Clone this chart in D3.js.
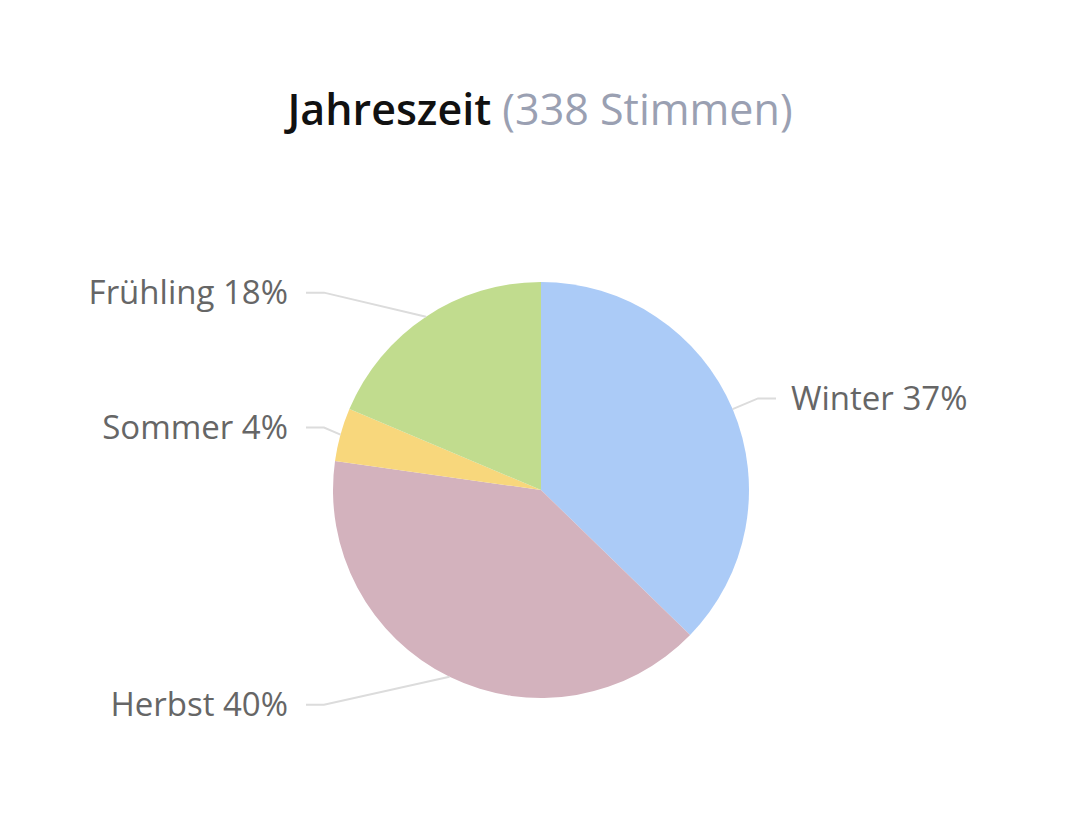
<!DOCTYPE html>
<html>
<head>
<meta charset="utf-8">
<script src="https://cdn.jsdelivr.net/npm/d3@7"></script>
<style>
  body { margin: 0; background: #fff; }
  svg { display: block; font-family: "Open Sans", "Noto Sans", sans-serif; }
</style>
</head>
<body>
<svg id="chart"></svg>
<script>
// data
const categories = ["Winter", "Herbst", "Sommer", "Frühling"];
const votes = [126, 135, 14, 63];
const percentLabels = ["37%", "40%", "4%", "18%"];
const colors = ["#abcbf7", "#d3b2bd", "#f8d77c", "#c1dc8e"];
const titleText = "Jahreszeit";
const subtitleText = "(338 Stimmen)";

const width = 1080, height = 822;
const cx = 541, cy = 490, radius = 208;
const labelDistance = 30;   // label y is placed this far beyond the rim
const labelColumn = 235;    // horizontal offset from centre to connector start
const connectorBreak = 18;  // length of the horizontal piece of the connector

const svg = d3.select("#chart")
  .attr("width", width)
  .attr("height", height);

svg.append("rect")
  .attr("width", width)
  .attr("height", height)
  .attr("fill", "#fff");

// title
const title = svg.append("text")
  .attr("x", width / 2)
  .attr("y", 125)
  .attr("text-anchor", "middle")
  .style("font-size", "43px");
title.append("tspan").attr("fill", "#111").attr("font-weight", 600).text(titleText);
title.append("tspan").attr("fill", "#9aa0b2").attr("font-weight", 400).text(" " + subtitleText);

const data = categories.map((c, i) => ({ name: c, value: votes[i], pct: percentLabels[i], color: colors[i] }));

const pie = d3.pie().sort(null).value(d => d.value);
const arcs = pie(data);
const arc = d3.arc().innerRadius(0).outerRadius(radius);

const g = svg.append("g").attr("transform", `translate(${cx},${cy})`);

g.selectAll("path.slice")
  .data(arcs)
  .join("path")
  .attr("class", "slice")
  .attr("d", arc)
  .attr("fill", d => d.data.color);

// connectors + labels
const mid = d => (d.startAngle + d.endAngle) / 2;
const isLeft = d => Math.sin(mid(d)) < 0;

const labels = arcs.map(d => {
  const a = mid(d);
  const side = isLeft(d) ? -1 : 1;
  const ex = radius * Math.sin(a);
  const ey = -radius * Math.cos(a);
  const ly = -(radius + labelDistance) * Math.cos(a) + 1;
  const lx = side * labelColumn;
  return { d, side, ex, ey, lx, ly };
});

g.selectAll("path.connector")
  .data(labels)
  .join("path")
  .attr("class", "connector")
  .attr("fill", "none")
  .attr("stroke", "#dcdcdc")
  .attr("stroke-width", 2)
  .attr("d", l => d3.line()([
    [l.lx, l.ly],
    [l.lx - l.side * connectorBreak, l.ly],
    [l.ex, l.ey]
  ]));

g.selectAll("text.label")
  .data(labels)
  .join("text")
  .attr("class", "label")
  .attr("x", l => l.lx + (l.side < 0 ? -18 : 15))
  .attr("y", l => l.ly)
  .attr("dy", "0.35em")
  .attr("text-anchor", l => l.side < 0 ? "end" : "start")
  .attr("fill", "#666666")
  .style("font-size", "33px")
  .text(l => `${l.d.data.name} ${l.d.data.pct}`);
</script>
</body>
</html>
